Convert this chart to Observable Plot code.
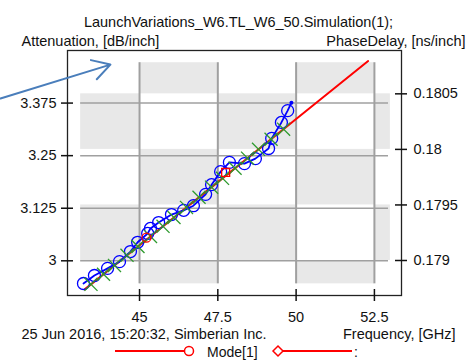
<!DOCTYPE html>
<html><head><meta charset="utf-8">
<script src="https://cdn.jsdelivr.net/npm/d3@7"></script>
<script src="https://cdn.jsdelivr.net/npm/@observablehq/plot@0.6"></script>
<style>html,body{margin:0;padding:0;background:#fff;}</style>
</head><body><div id="chart"></div>
<script>
// ---- texts ----
const titleText = "LaunchVariations_W6.TL_W6_50.Simulation(1);";
const leftAxisTitle = "Attenuation, [dB/inch]";
const rightAxisTitle = "PhaseDelay, [ns/inch]";
const footerLeft = "25 Jun 2016, 15:20:32, Simberian Inc.";
const footerRight = "Frequency, [GHz]";
const legendLabel = "Mode[1]";

// ---- ticks ----
const xTicks = [45, 47.5, 50, 52.5];
const xTickLabels = ["45", "47.5", "50", "52.5"];
const yLeftTicks = [3, 3.125, 3.25, 3.375];
const yLeftLabels = ["3", "3.125", "3.25", "3.375"];
const yRightTicks = [0.179, 0.1795, 0.18, 0.1805];
const yRightLabels = ["0.179", "0.1795", "0.18", "0.1805"];

// ---- data ----
// red model line (attenuation)
const redFreq = [43.25, 45.0, 47.5, 50.0, 52.3];
const redAtt  = [2.932, 3.037, 3.187, 3.337, 3.475];
// blue measured circles (attenuation)
const blueFreq = [43.21, 43.56, 43.98, 44.36, 44.71, 44.94, 45.26, 45.35, 45.61, 46.02, 46.41,
                  46.72, 47.11, 47.30, 47.59, 47.87, 48.35, 48.70, 49.12, 49.22, 49.53, 49.73, 49.85];
const blueAtt  = [2.946, 2.965, 2.982, 2.998, 3.022, 3.044, 3.065, 3.077, 3.091, 3.110, 3.120,
                  3.131, 3.158, 3.181, 3.212, 3.234, 3.231, 3.243, 3.267, 3.291, 3.329, 3.357, 3.376];
// green x markers
const greenFreq = [43.45, 43.85, 44.2, 44.6, 44.95, 45.35, 45.75, 46.1, 46.5, 46.9, 47.3,
                   47.65, 48.05, 48.45, 48.8, 49.2, 49.6];
const greenAtt  = [2.944, 2.968, 2.989, 3.013, 3.034, 3.058, 3.082, 3.103, 3.127, 3.151, 3.175,
                   3.196, 3.220, 3.244, 3.265, 3.289, 3.313];
// red single markers
const redCircleFreq = [45.22];
const redCircleAtt = [3.055];
const redSquareFreq = [47.75];
const redSquareAtt = [3.210];
// annotation arrow (data units)
const arrowFrom = [40.56, 3.386];
const arrowTo = [44.07, 3.4665];

// ---- scales ----
const xDomain = [42.70, 53.365];
const yDomain = [2.9175, 3.5];
const phaseDomain = [0.178685, 0.18089];
const toAtt = p => yDomain[0] + (p - phaseDomain[0]) / (phaseDomain[1] - phaseDomain[0]) * (yDomain[1] - yDomain[0]);

const W = 467, H = 360, mL = 67, mR = 66, mT = 50, mB = 65;
const pxX = (W - mL - mR) / (xDomain[1] - xDomain[0]);
const pxY = (H - mT - mB) / (yDomain[1] - yDomain[0]);
const hx = 6 / pxX, hy = 6 / pxY;

// checkerboard background
const colEdges = [43.12, 45, 47.5, 50, 52.5, 53.01];
const rowEdges = [0.17879, 0.179, 0.1795, 0.18, 0.1805, 0.18078];
const cells = [];
for (let c = 0; c < colEdges.length - 1; c++)
  for (let r = 0; r < rowEdges.length - 1; r++)
    if ((c + r) % 2 === 1) cells.push({x1: colEdges[c], x2: colEdges[c + 1], y1: toAtt(rowEdges[r]), y2: toAtt(rowEdges[r + 1])});

const idx = n => d3.range(n);

const svg = Plot.plot({
  width: W, height: H,
  marginLeft: mL, marginRight: mR, marginTop: mT, marginBottom: mB,
  x: {domain: xDomain, axis: null},
  y: {domain: yDomain, axis: null},
  style: {fontFamily: "'Liberation Sans', Arial, sans-serif", fontSize: "14.5px", background: "#fff", color: "#111"},
  marks: [
    Plot.rect(cells, {x1: "x1", x2: "x2", y1: "y1", y2: "y2", fill: "#e8e8e8"}),
    Plot.ruleX(xTicks, {x: d => d, y1: toAtt(rowEdges[0]), y2: toAtt(rowEdges[rowEdges.length - 1]), stroke: "#a0a0a0", strokeWidth: 2}),
    Plot.ruleY(yLeftTicks, {y: d => d, x1: colEdges[0], x2: 52.95, stroke: "#a0a0a0", strokeWidth: 1.5}),
    Plot.line(idx(redFreq.length), {x: i => redFreq[i], y: i => redAtt[i], stroke: "#ff0000", strokeWidth: 2}),
    Plot.line(idx(blueFreq.length), {x: i => blueFreq[i], y: i => blueAtt[i], stroke: "#0000ff", strokeWidth: 1.8}),
    Plot.dot(idx(blueFreq.length - 1), {x: i => blueFreq[i], y: i => blueAtt[i], r: 6, stroke: "#0000ff", strokeWidth: 1.3, fill: "none"}),
    Plot.dot([blueFreq.length - 1], {x: i => blueFreq[i], y: i => blueAtt[i], r: 2, fill: "#0000ff"}),
    Plot.dot(idx(greenFreq.length), {x: i => greenFreq[i], y: i => greenAtt[i], symbol: "times", r: 6, stroke: "#2e9a2e", strokeWidth: 1.3}),
    Plot.dot(idx(redCircleFreq.length), {x: i => redCircleFreq[i], y: i => redCircleAtt[i], r: 4.5, stroke: "#ff0000", strokeWidth: 1.3, fill: "none"}),
    Plot.dot(idx(redSquareFreq.length), {x: i => redSquareFreq[i], y: i => redSquareAtt[i], symbol: "square", r: 4.5, stroke: "#ff0000", strokeWidth: 1.3, fill: "none"}),
    Plot.frame({stroke: "#222", strokeWidth: 1.3}),
    // ticks (crossing the axis lines)
    Plot.ruleY(yLeftTicks, {y: d => d, x1: xDomain[0] - hx, x2: xDomain[0] + hx, stroke: "#111", strokeWidth: 1.5}),
    Plot.ruleY(yRightTicks, {y: d => toAtt(d), x1: xDomain[1] - hx, x2: xDomain[1] + hx, stroke: "#111", strokeWidth: 1.5}),
    Plot.ruleX(xTicks, {x: d => d, y1: yDomain[0] - hy, y2: yDomain[0] + hy, stroke: "#111", strokeWidth: 1.5}),
    // tick labels
    Plot.text(yLeftTicks, {y: d => d, text: (d, i) => yLeftLabels[i], frameAnchor: "left", textAnchor: "end", dx: -11}),
    Plot.text(yRightTicks, {y: d => toAtt(d), text: (d, i) => yRightLabels[i], frameAnchor: "right", textAnchor: "start", dx: 12}),
    Plot.text(xTicks, {x: d => d, text: (d, i) => xTickLabels[i], frameAnchor: "bottom", lineAnchor: "top", dy: 16}),
    // titles
    Plot.text([titleText], {frameAnchor: "top", lineAnchor: "bottom", dx: 4, dy: -24}),
    Plot.text([leftAxisTitle], {frameAnchor: "top-left", textAnchor: "start", lineAnchor: "bottom", dx: -46, dy: -5}),
    Plot.text([rightAxisTitle], {frameAnchor: "top-right", textAnchor: "end", lineAnchor: "bottom", dx: 64, dy: -5}),
    Plot.text([footerLeft], {frameAnchor: "bottom-left", textAnchor: "start", lineAnchor: "bottom", dx: -46, dy: 43}),
    Plot.text([footerRight], {frameAnchor: "bottom-right", textAnchor: "end", lineAnchor: "bottom", dx: 54, dy: 43}),
    // annotation arrow
    Plot.arrow([0], {x1: () => arrowFrom[0], y1: () => arrowFrom[1], x2: () => arrowTo[0], y2: () => arrowTo[1],
      stroke: "#4a7ebb", strokeWidth: 2, headLength: 15, headAngle: 60})
  ]
});

// legend (below the chart)
const g = d3.select(svg).append("g").attr("fill", "none");
const ly = 351;
g.append("line").attr("x1", 115).attr("x2", 185).attr("y1", ly).attr("y2", ly).attr("stroke", "#ff0000").attr("stroke-width", 2);
g.append("circle").attr("cx", 189).attr("cy", ly).attr("r", 4.5).attr("stroke", "#ff0000").attr("stroke-width", 1.5).attr("fill", "#fff");
g.append("text").attr("x", 207).attr("y", 357).attr("text-anchor", "start").attr("font-size", "14px").attr("fill", "#111").text(legendLabel);
g.append("path").attr("d", `M273,${ly}L278,${ly - 5}L283,${ly}L278,${ly + 5}Z`).attr("stroke", "#ff0000").attr("stroke-width", 1.5).attr("fill", "#fff");
g.append("line").attr("x1", 283).attr("x2", 352).attr("y1", ly).attr("y2", ly).attr("stroke", "#ff0000").attr("stroke-width", 2);
g.append("text").attr("x", 354).attr("y", 357).attr("text-anchor", "start").attr("font-size", "14px").attr("fill", "#111").text(":");

document.getElementById("chart").append(svg);
</script>
</body></html>
